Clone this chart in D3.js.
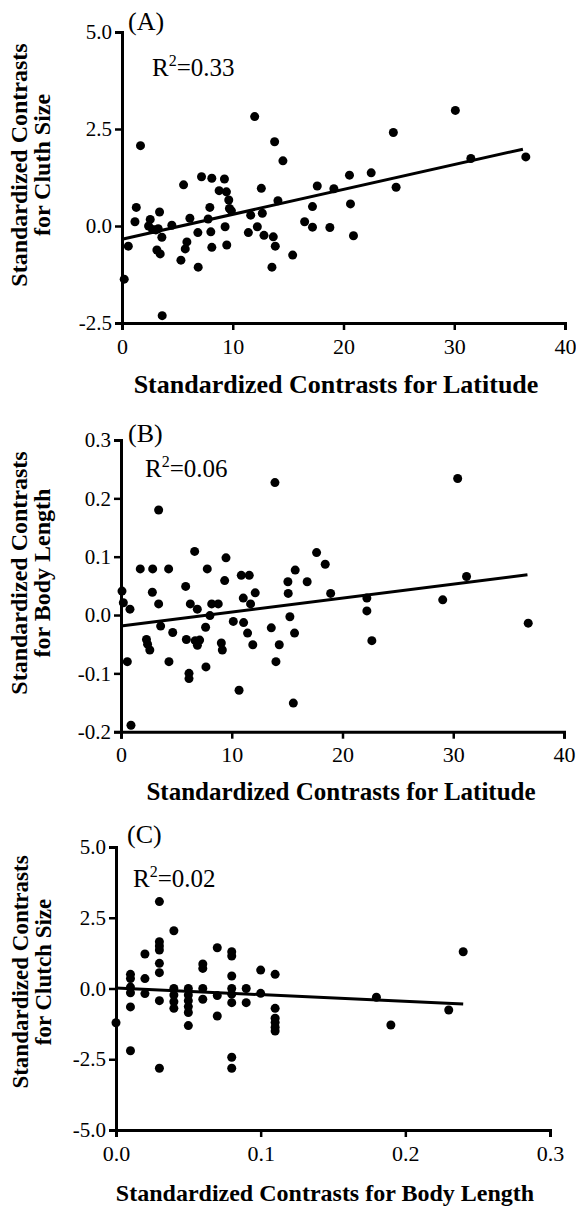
<!DOCTYPE html>
<html><head><meta charset="utf-8">
<script src="https://cdn.jsdelivr.net/npm/d3@7"></script>
<style>body{margin:0;background:#fff}svg{display:block}</style>
</head><body><svg id="c" width="576" height="1206"></svg>
<script>
// ---- Panel A: latitude vs clutch size ----
const latA = [0.2,0.57,1.17,1.29,1.67,2.55,2.4,2.76,3.06,3.39,3.27,3.6,3.15,3.45,3.63,4.5,5.56,5.32,5.86,5.71,6.13,6.85,6.88,7.18,8.11,7.93,7.78,8.02,8.11,9.25,8.77,9.43,9.64,9.7,9.88,9.31,9.46,11.41,11.62,12.22,12.58,12.67,12.82,13.66,13.84,13.54,14.08,14.53,11.98,13.78,15.41,16.49,17.2,17.2,17.63,18.77,19.13,20.54,20.63,20.9,22.5,24.5,24.75,30.1,31.5,36.46];
const clutchA = [-1.37,-0.52,0.11,0.48,2.07,0.17,0.0,-0.09,-0.1,0.36,-0.07,-0.29,-0.62,-0.72,-2.31,0.02,1.06,-0.88,-0.41,-0.59,0.2,-0.17,-1.06,1.27,1.23,0.48,0.18,-0.15,-0.55,1.21,0.91,0.88,0.67,0.45,0.39,-0.02,-0.49,-0.17,0.28,-0.02,0.97,0.33,-0.24,-0.28,-0.52,-1.06,0.65,1.68,2.82,2.17,-0.75,0.11,-0.03,0.5,1.03,-0.04,0.96,1.31,0.57,-0.25,1.37,2.41,1.0,2.98,1.74,1.78];
const fitA = [[0,-0.34],[36.2,1.98]];
const xTicksA = [0,10,20,30,40];
const yTicksA = [-2.5,0,2.5,5];

// ---- Panel B: latitude vs body length ----
const latB = [13.9,3.4,6.65,9.48,17.66,18.44,1.74,2.86,4.3,7.79,15.73,5.84,9.36,10.86,11.58,15.07,16.81,0.09,2.83,12.12,15.1,18.93,0.21,0.81,3.4,6.26,6.89,8.19,8.78,11.04,11.7,8.03,15.25,3.58,4.67,7.64,10.14,11.07,11.43,13.57,15.67,0.57,0.9,2.3,2.4,2.6,4.33,5.9,6.14,6.14,6.7,7.1,6.9,7.67,9.06,9.15,10.66,11.9,13.99,14.29,15.56,22.2,22.2,22.65,29.05,31.2,36.77,30.4];
const bodyB = [0.227,0.18,0.109,0.098,0.107,0.087,0.079,0.079,0.079,0.079,0.077,0.049,0.059,0.068,0.068,0.057,0.057,0.041,0.039,0.038,0.037,0.037,0.021,0.01,0.019,0.019,0.01,0.019,0.019,0.029,0.019,-0.001,-0.003,-0.019,-0.03,-0.021,-0.011,-0.013,-0.031,-0.022,-0.031,-0.08,-0.189,-0.042,-0.05,-0.06,-0.08,-0.042,-0.1,-0.109,-0.044,-0.043,-0.052,-0.089,-0.048,-0.06,-0.129,-0.051,-0.08,-0.051,-0.151,0.029,0.007,-0.044,0.026,0.066,-0.014,0.234];
const fitB = [[0,-0.019],[36.7,0.069]];
const xTicksB = [0,10,20,30,40];
const yTicksB = [-0.2,-0.1,0,0.1,0.2,0.3];

// ---- Panel C: body length vs clutch size ----
const bodyC = [0,0.01,0.01,0.01,0.01,0.01,0.01,0.02,0.02,0.02,0.03,0.03,0.03,0.03,0.03,0.03,0.03,0.03,0.04,0.04,0.04,0.04,0.04,0.05,0.05,0.05,0.05,0.05,0.05,0.06,0.06,0.06,0.06,0.07,0.07,0.07,0.08,0.08,0.08,0.08,0.08,0.08,0.08,0.08,0.09,0.09,0.1,0.1,0.11,0.11,0.11,0.11,0.11,0.11,0.18,0.19,0.23,0.24];
const clutchC = [-1.21,0.5,0.35,0.05,-0.15,-0.65,-2.2,1.22,0.35,-0.18,3.07,1.65,1.5,1.36,0.89,0.56,-0.43,-2.82,2.04,0.0,-0.23,-0.47,-0.7,0.0,-0.23,-0.43,-0.64,-0.85,-1.31,0.87,0.71,0.0,-0.38,1.44,-0.25,-0.97,1.3,1.15,0.44,0.0,-0.2,-0.5,-2.43,-2.82,0.0,-0.5,0.65,-0.17,0.5,-0.7,-1.05,-1.2,-1.37,-1.5,-0.31,-1.29,-0.76,1.3];
const fitC = [[0,0.02],[0.24,-0.55]];
const xTicksC = [0,0.1,0.2,0.3];
const yTicksC = [-5,-2.5,0,2.5,5];

const svg = d3.select("#c");
const SERIF = "'Liberation Serif','Times New Roman',serif";

function panel(o){
  const x = d3.scaleLinear().domain(o.xd).range(o.xr);
  const y = d3.scaleLinear().domain(o.yd).range(o.yr);
  const g = svg.append("g");
  const yAx = g.append("g").attr("transform",`translate(${o.xr[0]},0)`)
    .call(d3.axisLeft(y).tickValues(o.yt).tickSize(7).tickPadding(3).tickFormat(o.yf));
  const xAx = g.append("g").attr("transform",`translate(0,${o.yr[0]})`)
    .call(d3.axisBottom(x).tickValues(o.xt).tickSize(7).tickPadding(8).tickFormat(o.xf));
  [yAx,xAx].forEach(a=>{
    a.select(".domain").attr("stroke","#000").attr("stroke-width",3);
    a.selectAll(".tick line").attr("stroke","#000").attr("stroke-width",2.5);
    a.selectAll(".tick text").attr("fill","#000").style("font-family",SERIF).style("font-size","21px");
  });
  xAx.selectAll(".tick text").style("font-size","22px");
  g.selectAll("circle.d").data(o.xs).join("circle").attr("class","d")
    .attr("cx",(d)=>x(d)).attr("cy",(d,i)=>y(o.ys[i])).attr("r",4.5).attr("fill","#000");
  g.append("path").datum(o.fit)
    .attr("d",d3.line().x(d=>x(d[0])).y(d=>y(d[1])))
    .attr("stroke","#000").attr("stroke-width",3).attr("fill","none");
  g.append("text").attr("x",o.lab[0]).attr("y",o.lab[1]).text(o.label)
    .style("font-family",SERIF).style("font-size","26px");
  const r = g.append("text").attr("x",o.r2[0]).attr("y",o.r2[1])
    .style("font-family",SERIF).style("font-size","25px");
  r.append("tspan").text("R");
  r.append("tspan").text("2").attr("dy",-10).style("font-size","16px");
  r.append("tspan").text("=" + o.r2v).attr("dy",10);
  g.append("text").attr("x",o.xtp[0]).attr("y",o.xtp[1]).attr("text-anchor","middle")
    .text(o.xtitle).style("font-family",SERIF).style("font-size",o.xts+"px").style("font-weight","bold");
  o.ytitle.forEach((t,i)=>{
    g.append("text").attr("transform",`translate(${o.ytx[i]},${o.yty}) rotate(-90)`)
      .attr("text-anchor","middle").text(t)
      .style("font-family",SERIF).style("font-size",o.yts+"px").style("font-weight","bold");
  });
}
const f1 = d=>d.toFixed(1), f0 = d=>d.toFixed(0);

panel({xd:[0,40],yd:[-2.5,5],xr:[122,565],yr:[323,32],xt:xTicksA,yt:yTicksA,xf:f0,yf:f1,
  xs:latA,ys:clutchA,fit:fitA,label:"(A)",lab:[128,30],r2:[152,76],r2v:"0.33",
  xtitle:"Standardized Contrasts for Latitude",xtp:[336,393],xts:26,
  ytitle:["Standardized Contrasts","for Cluth Size"],ytx:[27,50],yty:165,yts:24});
panel({xd:[0,40],yd:[-0.2,0.3],xr:[121,564],yr:[731.7,440],xt:xTicksB,yt:yTicksB,xf:f0,yf:f1,
  xs:latB,ys:bodyB,fit:fitB,label:"(B)",lab:[128,442],r2:[145,477],r2v:"0.06",
  xtitle:"Standardized Contrasts for Latitude",xtp:[341,800],xts:25,
  ytitle:["Standardized Contrasts","for Body Length"],ytx:[27,50],yty:573,yts:24});
panel({xd:[0,0.3],yd:[-5,5],xr:[116,550],yr:[1130,847],xt:xTicksC,yt:yTicksC,xf:f1,yf:f1,
  xs:bodyC,ys:clutchC,fit:fitC,label:"(C)",lab:[127,843],r2:[133,887],r2v:"0.02",
  xtitle:"Standardized Contrasts for Body Length",xtp:[325,1201],xts:24,
  ytitle:["Standardized Contrasts","for Clutch Size"],ytx:[28,51],yty:972,yts:23});
</script></body></html>
